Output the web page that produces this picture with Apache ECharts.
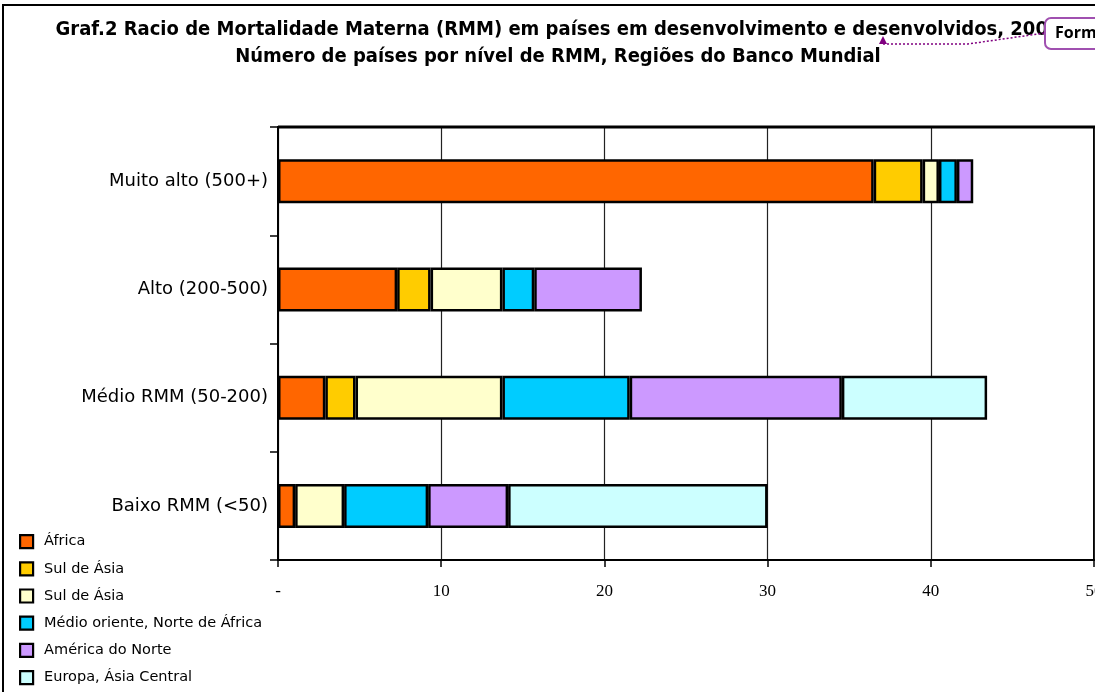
<!DOCTYPE html>
<html>
<head>
<meta charset="utf-8">
<script src="https://cdn.jsdelivr.net/npm/echarts@6/dist/echarts.min.js"></script>
<style>
  html, body { margin: 0; padding: 0; background: #fff; }
  #chart { width: 1095px; height: 692px; }
</style>
</head>
<body>
<div id="chart"></div>
<script>
// Maternal mortality levels: number of countries per region
const categories = ['Muito alto (500+)', 'Alto (200-500)', 'Médio RMM (50-200)', 'Baixo RMM (<50)'];
const legendNames = ['África', 'Sul de Ásia', 'Sul de Ásia', 'Médio oriente, Norte de África', 'América do Norte', 'Europa, Ásia Central'];
const africa       = [36.5, 7.3, 2.9, 1.05];
const sulAsia      = [3.0, 2.05, 1.85, null];
const sulAsia2     = [1.0, 4.4, 9.0, 3.0];
const medioOriente = [1.1, 1.95, 7.8, 5.15];
const americaNorte = [1.0, 6.6, 13.0, 4.9];
const europa       = [null, null, 8.9, 15.9];
const xTicks = [0, 10, 20, 30, 40, 50];

const seriesValues = [africa, sulAsia, sulAsia2, medioOriente, americaNorte, europa];
const colors = ['#FF6600', '#FFCC00', '#FFFFCC', '#00CCFF', '#CC99FF', '#CCFFFF'];

// identical legend labels need distinct series names
const seriesNames = legendNames.map((n, i) => n + ' '.repeat(legendNames.slice(0, i).filter(m => m === n).length));

const chart = echarts.init(document.getElementById('chart'), null, { renderer: 'canvas' });

const titleFont = "'Liberation Sans Narrow', 'DejaVu Sans Condensed', 'Liberation Sans', sans-serif";
const textFont = "'DejaVu Sans', Verdana, sans-serif";

chart.setOption({
  animation: false,
  backgroundColor: '#ffffff',
  grid: {
    left: 278, right: 1, top: 127, bottom: 132,
    outerBoundsMode: 'none',
    containLabel: false,
    show: true, borderColor: '#000', borderWidth: 2, backgroundColor: '#fff'
  },
  legend: {
    orient: 'vertical',
    left: 19, top: 534,
    padding: 0,
    itemWidth: 13, itemHeight: 13, itemGap: 12,
    icon: 'rect',
    selectedMode: false,
    itemStyle: { borderColor: '#000', borderWidth: 2.2 },
    textStyle: { fontFamily: textFont, fontSize: 14.5, lineHeight: 13, color: '#000', padding: [0, 0, 0, 6] },
    data: seriesNames
  },
  xAxis: {
    type: 'value',
    min: xTicks[0], max: xTicks[xTicks.length - 1], interval: 10,
    axisLine: { show: true, lineStyle: { color: '#000', width: 2 } },
    axisTick: { show: true, length: 7, lineStyle: { color: '#000', width: 1.5 } },
    splitLine: { show: true, lineStyle: { color: '#222', width: 1.2 } },
    axisLabel: {
      margin: 23,
      fontFamily: "'Liberation Serif', 'Times New Roman', serif",
      fontSize: 17, color: '#000',
      formatter: v => (v === 0 ? '-' : String(v))
    }
  },
  yAxis: {
    type: 'category',
    inverse: true,
    data: categories,
    axisLine: { show: true, lineStyle: { color: '#000', width: 2 } },
    axisTick: { show: true, length: 8, lineStyle: { color: '#000', width: 1.5 } },
    axisLabel: {
      margin: 10,
      fontFamily: textFont,
      fontSize: 18, color: '#000'
    }
  },
  series: seriesValues.map((vals, i) => ({
    name: seriesNames[i],
    type: 'bar',
    stack: 'total',
    barWidth: 44,
    data: vals,
    itemStyle: { color: colors[i], borderColor: '#000', borderWidth: 2.5 }
  })),
  graphic: [
    // outer frame
    { type: 'rect', shape: { x: 3, y: 5, width: 1200, height: 800 },
      style: { fill: null, stroke: '#000', lineWidth: 2 }, silent: true, z: 100 },
    // heavier top edge of the plot frame
    { type: 'line', shape: { x1: 278, y1: 127, x2: 1095, y2: 127 },
      style: { stroke: '#000', lineWidth: 3 }, silent: true, z: 90 },
    // title
    { type: 'text', x: 558, y: 20, z: 50,
      style: { text: 'Graf.2 Racio de Mortalidade Materna (RMM) em países em desenvolvimento e desenvolvidos, 2000',
        font: 'bold 20px ' + titleFont, fill: '#000', textAlign: 'center' } },
    { type: 'text', x: 558, y: 47, z: 50,
      style: { text: 'Número de países por nível de RMM, Regiões do Banco Mundial',
        font: 'bold 20px ' + titleFont, fill: '#000', textAlign: 'center' } },
    // comment balloon
    { type: 'polyline', z: 60, shape: { points: [[883, 44], [968, 44], [1045, 33]] },
      style: { stroke: '#800080', lineWidth: 1.5, lineDash: [2, 2], fill: null } },
    { type: 'polygon', z: 60, shape: { points: [[883, 36], [879, 44], [887, 44]] },
      style: { fill: '#800080' } },
    { type: 'rect', z: 70, shape: { x: 1045, y: 18, width: 80, height: 31, r: 6 },
      style: { fill: '#fff', stroke: '#A050B0', lineWidth: 2 } },
    { type: 'text', x: 1055, y: 25, z: 71,
      style: { text: 'Formatted', font: 'bold 16px "Open Sans", "Liberation Sans", sans-serif', fill: '#000' } }
  ]
});
</script>
</body>
</html>
